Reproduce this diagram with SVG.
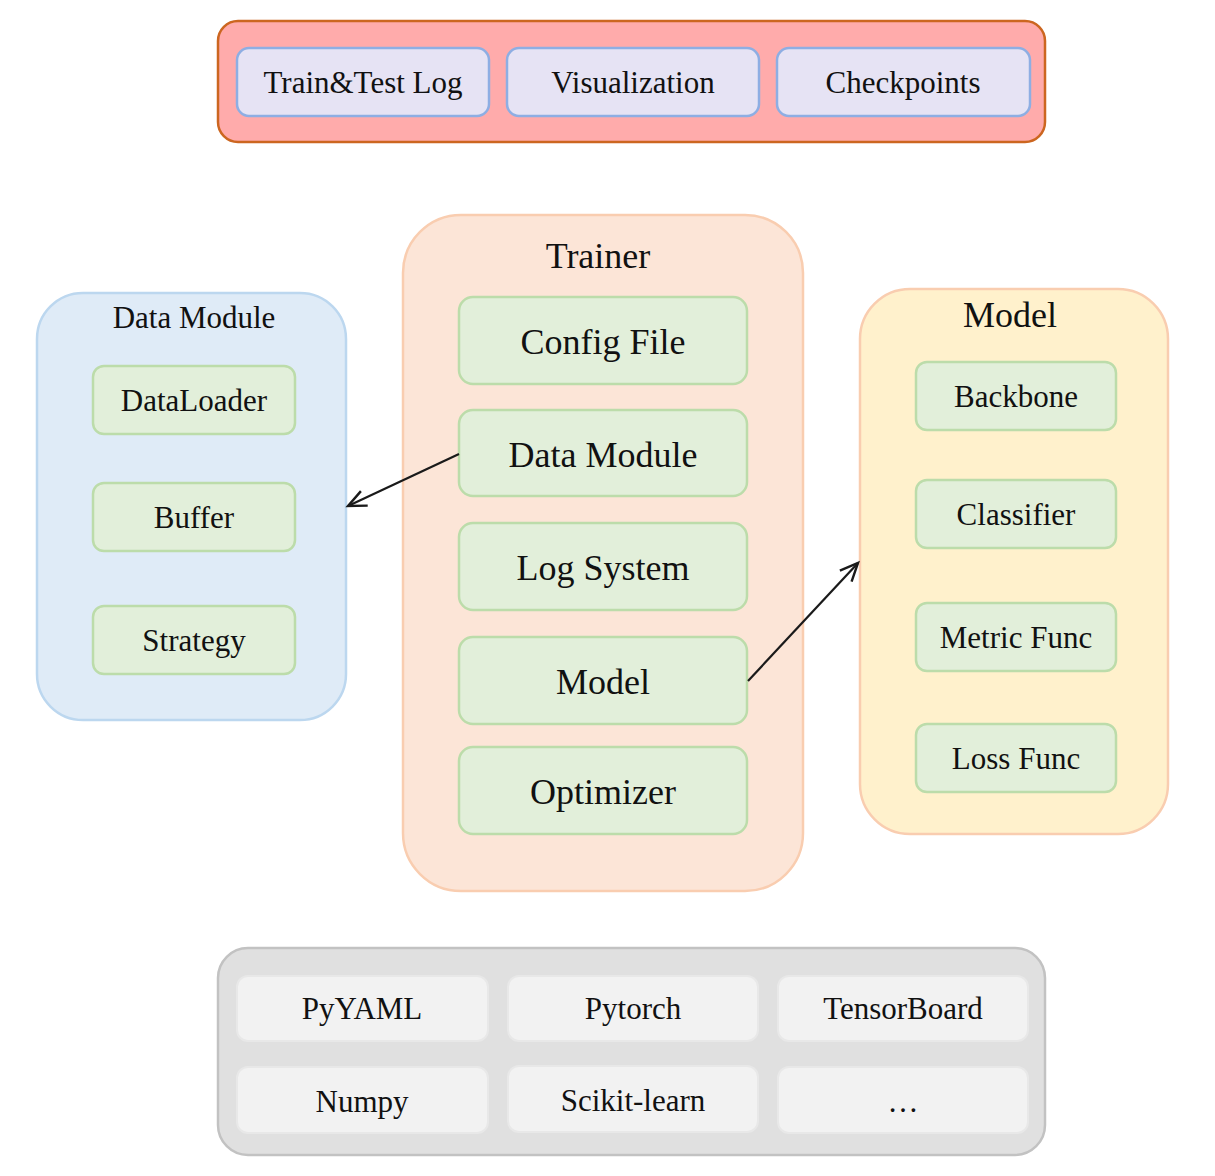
<svg xmlns="http://www.w3.org/2000/svg" width="1215" height="1176" viewBox="0 0 1215 1176">
<defs>
<style>
text{font-family:"Liberation Serif","Times New Roman",serif;fill:#111;text-anchor:middle}
.s{font-size:31px}
.b{font-size:36px}
.pur{fill:#e6e3f4;stroke:#8eaee3;stroke-width:2.5}
.grn{fill:#e2efda;stroke:#bcdcaa;stroke-width:2.5}
.gry{fill:#f2f2f2;stroke:#e8e8e8;stroke-width:2}
.conn{fill:none;stroke:#1a1a1a;stroke-width:2.2}
</style>
<marker id="arr" viewBox="0 0 24 24" refX="21" refY="12" markerWidth="24" markerHeight="24" markerUnits="userSpaceOnUse" orient="auto">
<path d="M3,4 L21,12 L3,20" fill="none" stroke="#1a1a1a" stroke-width="2.4"/>
</marker>
</defs>
<rect width="1215" height="1176" fill="#ffffff"/>

<g id="outputs">
<rect x="218" y="21" width="827" height="121" rx="20" fill="#ffabab" stroke="#cc6620" stroke-width="2.5"/>
<g id="train-test-log"><rect class="pur" x="237" y="48" width="252" height="68" rx="12"/><text class="s" x="363" y="93">Train&amp;Test Log</text></g>
<g id="visualization"><rect class="pur" x="507" y="48" width="252" height="68" rx="12"/><text class="s" x="633" y="93">Visualization</text></g>
<g id="checkpoints"><rect class="pur" x="777" y="48" width="253" height="68" rx="12"/><text class="s" x="903" y="93">Checkpoints</text></g>
</g>

<g id="trainer">
<rect x="403" y="215" width="400" height="676" rx="58" fill="#fce5d7" stroke="#f9cdb0" stroke-width="2.5"/>
<text class="b" x="598" y="268">Trainer</text>
<g id="config-file"><rect class="grn" x="459" y="297" width="288" height="87" rx="14"/><text class="b" x="603" y="354">Config File</text></g>
<g id="trainer-data-module"><rect class="grn" x="459" y="410" width="288" height="86" rx="14"/><text class="b" x="603" y="467">Data Module</text></g>
<g id="log-system"><rect class="grn" x="459" y="523" width="288" height="87" rx="14"/><text class="b" x="603" y="580">Log System</text></g>
<g id="trainer-model"><rect class="grn" x="459" y="637" width="288" height="87" rx="14"/><text class="b" x="603" y="694">Model</text></g>
<g id="optimizer"><rect class="grn" x="459" y="747" width="288" height="87" rx="14"/><text class="b" x="603" y="804">Optimizer</text></g>
</g>

<g id="data-module">
<rect x="37" y="293" width="309" height="427" rx="46" fill="#dfebf7" stroke="#bcd7ef" stroke-width="2.5"/>
<text class="s" x="194" y="328">Data Module</text>
<g id="dataloader"><rect class="grn" x="93" y="366" width="202" height="68" rx="11"/><text class="s" x="194" y="411">DataLoader</text></g>
<g id="buffer"><rect class="grn" x="93" y="483" width="202" height="68" rx="11"/><text class="s" x="194" y="528">Buffer</text></g>
<g id="strategy"><rect class="grn" x="93" y="606" width="202" height="68" rx="11"/><text class="s" x="194" y="651">Strategy</text></g>
</g>

<g id="model">
<rect x="860" y="289" width="308" height="545" rx="50" fill="#fff1cc" stroke="#f9cdb0" stroke-width="2.5"/>
<text class="b" x="1010" y="327">Model</text>
<g id="backbone"><rect class="grn" x="916" y="362" width="200" height="68" rx="11"/><text class="s" x="1016" y="407">Backbone</text></g>
<g id="classifier"><rect class="grn" x="916" y="480" width="200" height="68" rx="11"/><text class="s" x="1016" y="525">Classifier</text></g>
<g id="metric-func"><rect class="grn" x="916" y="603" width="200" height="68" rx="11"/><text class="s" x="1016" y="648">Metric Func</text></g>
<g id="loss-func"><rect class="grn" x="916" y="724" width="200" height="68" rx="11"/><text class="s" x="1016" y="769">Loss Func</text></g>
</g>

<g id="libraries">
<rect x="218" y="948" width="827" height="207" rx="30" fill="#e0e0e0" stroke="#c2c2c2" stroke-width="2.5"/>
<g id="pyyaml"><rect class="gry" x="237" y="976" width="251" height="65" rx="11"/><text class="s" x="362" y="1019">PyYAML</text></g>
<g id="pytorch"><rect class="gry" x="508" y="976" width="250" height="65" rx="11"/><text class="s" x="633" y="1019">Pytorch</text></g>
<g id="tensorboard"><rect class="gry" x="778" y="976" width="250" height="65" rx="11"/><text class="s" x="903" y="1019">TensorBoard</text></g>
<g id="numpy"><rect class="gry" x="237" y="1067" width="251" height="66" rx="11"/><text class="s" x="362" y="1112">Numpy</text></g>
<g id="scikit-learn"><rect class="gry" x="508" y="1066" width="250" height="66" rx="11"/><text class="s" x="633" y="1111">Scikit-learn</text></g>
<g id="more"><rect class="gry" x="778" y="1067" width="250" height="66" rx="11"/><text class="s" x="903" y="1112">…</text></g>
</g>

<g id="connectors">
<line class="conn" x1="459" y1="454" x2="348" y2="506" marker-end="url(#arr)"/>
<line class="conn" x1="748" y1="681" x2="858" y2="563" marker-end="url(#arr)"/>
</g>
</svg>
